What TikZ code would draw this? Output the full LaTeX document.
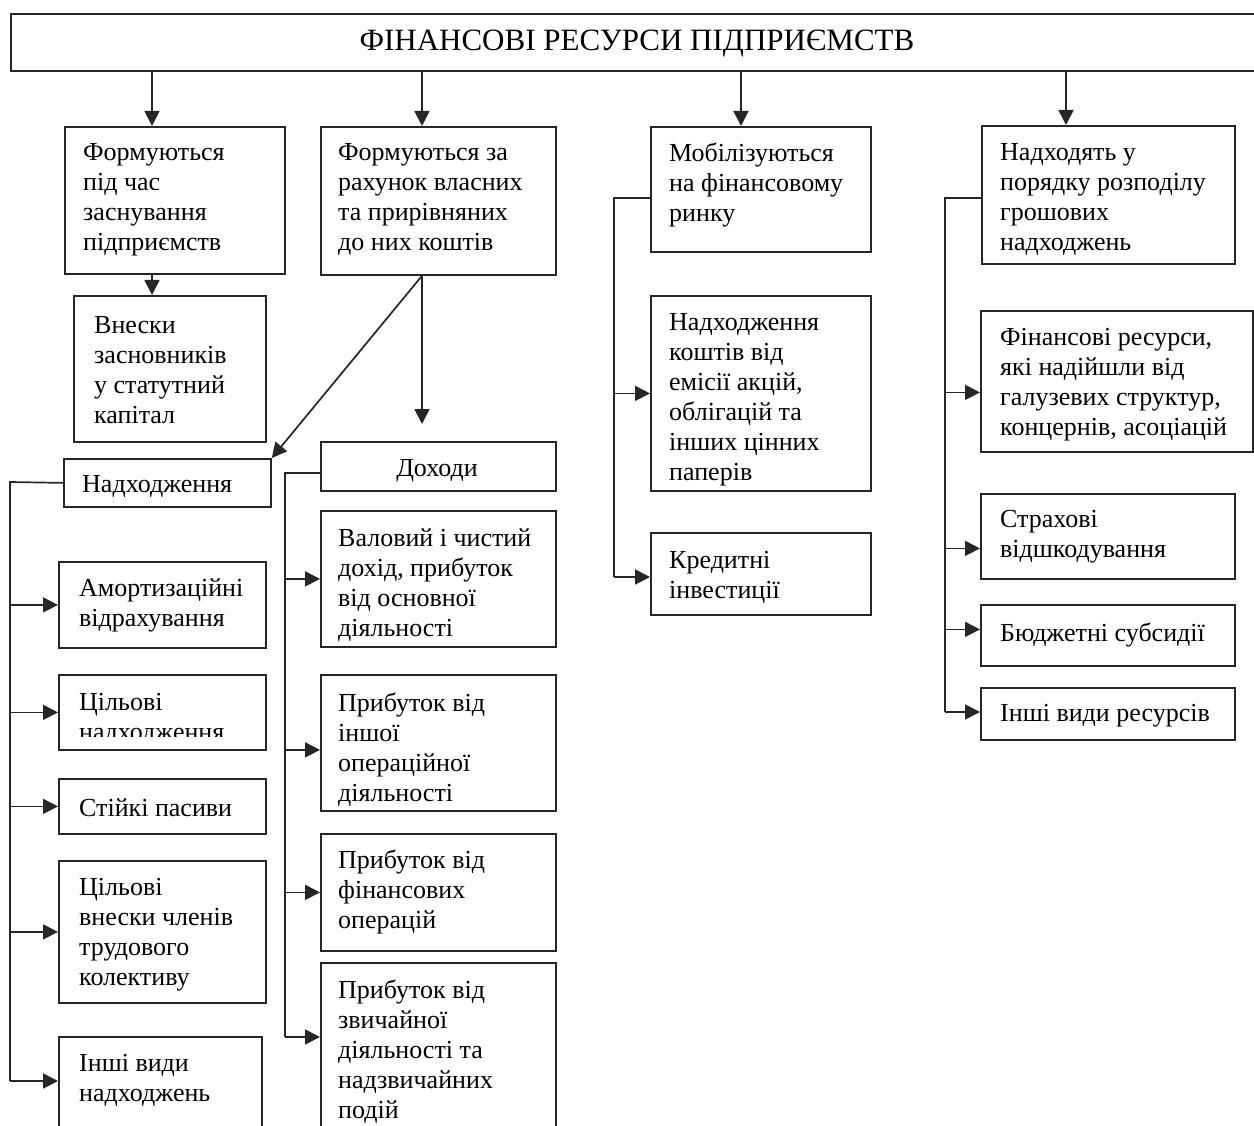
\documentclass[tikz,border=0pt]{standalone}
\usepackage{fontspec}
\setmainfont{Liberation Serif}
\usetikzlibrary{arrows.meta}
\begin{document}
\begin{tikzpicture}[x=1pt,y=-1pt,
  bx/.style={draw=black!85, line width=1.8pt, inner sep=0pt, anchor=north west},
  tx/.style={anchor=west, align=left, inner sep=0pt, yshift=-3pt, font=\fontsize{26}{30}\selectfont},
  ln/.style={draw=black!85, line width=1.7pt},
  arr/.style={ln, -{Triangle[length=15pt,width=15pt]}}]
\useasboundingbox (0,0) rectangle (1254,1126);
\clip (0,0) rectangle (1254,1126);
\fill[white] (0,0) rectangle (1254,1126);
% title
\node[bx, minimum width=1252pt, minimum height=57pt] (title) at (10,13) {};
\node[font=\fontsize{31}{34}\selectfont, inner sep=0pt] (titlet) at (637,44) {ФІНАНСОВІ РЕСУРСИ ПІДПРИЄМСТВ};
% column A
\node[bx, minimum width=220pt, minimum height=147pt] (A1) at (64,126) {};
\node[tx] (A1t) at (83,197) {Формуються\\під час\\заснування\\підприємств};
\node[bx, minimum width=192pt, minimum height=146pt] (A2) at (73,295) {};
\node[tx] (A2t) at (94,367) {Внески\\засновників\\у статутний\\капітал};
% column B
\node[bx, minimum width=235pt, minimum height=148pt] (B1) at (320,126) {};
\node[tx] (B1t) at (338,197) {Формуються за\\рахунок власних\\та прирівняних\\до них коштів};
% column C
\node[bx, minimum width=220pt, minimum height=125pt] (C1) at (650,126) {};
\node[tx] (C1t) at (669,182) {Мобілізуються\\на фінансовому\\ринку};
\node[bx, minimum width=220pt, minimum height=195pt] (C2) at (650,295) {};
\node[tx] (C2t) at (669,397) {Надходження\\коштів від\\емісії акцій,\\облігацій та\\інших цінних\\паперів};
\node[bx, minimum width=220pt, minimum height=82pt] (C3) at (650,532) {};
\node[tx] (C3t) at (669,574) {Кредитні\\інвестиції};
% column D
\node[bx, minimum width=253pt, minimum height=138pt] (D1) at (981,125) {};
\node[tx] (D1t) at (1000,197) {Надходять у\\порядку розподілу\\грошових\\надходжень};
\node[bx, minimum width=272pt, minimum height=141pt] (D2) at (980,310) {};
\node[tx] (D2t) at (1000,382) {Фінансові ресурси,\\які надійшли від\\галузевих структур,\\концернів, асоціацій};
\node[bx, minimum width=254pt, minimum height=85pt] (D3) at (980,493) {};
\node[tx] (D3t) at (1000,534) {Страхові\\відшкодування};
\node[bx, minimum width=254pt, minimum height=61pt] (D4) at (980,604) {};
\node[tx] (D4t) at (1000,632) {Бюджетні субсидії};
\node[bx, minimum width=254pt, minimum height=52pt] (D5) at (980,687) {};
\node[tx] (D5t) at (1000,713) {Інші види ресурсів};
% Надходження / Доходи
\node[bx, minimum width=207pt, minimum height=48pt] (N0) at (63,458) {};
\node[tx] (N0t) at (82,484) {Надходження};
\node[bx, minimum width=235pt, minimum height=49pt] (K0) at (320,441) {};
\node[tx, anchor=center] (K0t) at (437,468) {Доходи};
% left column
\node[bx, minimum width=207pt, minimum height=86pt] (L1) at (58,561) {};
\node[tx] (L1t) at (79,602) {Амортизаційні\\відрахування};
\node[bx, minimum width=207pt, minimum height=75pt] (L2) at (58,674) {};
\begin{scope}
\clip (58,674) rectangle (265,736);
\node[tx] (L2t) at (79,716) {Цільові\\надходження};
\end{scope}
\node[bx, minimum width=207pt, minimum height=55pt] (L3) at (58,778) {};
\node[tx] (L3t) at (79,805) {Стійкі пасиви};
\node[bx, minimum width=207pt, minimum height=142pt] (L4) at (58,860) {};
\node[tx] (L4t) at (79,932) {Цільові\\внески членів\\трудового\\колективу};
\node[bx, minimum width=203pt, minimum height=110pt] (L5) at (58,1036) {};
\node[tx] (L5t) at (79,1077) {Інші види\\надходжень};
% middle column
\node[bx, minimum width=235pt, minimum height=136pt] (M1) at (320,510) {};
\node[tx] (M1t) at (338,582) {Валовий і чистий\\дохід, прибуток\\від основної\\діяльності};
\node[bx, minimum width=235pt, minimum height=136pt] (M2) at (320,674) {};
\node[tx] (M2t) at (338,747) {Прибуток від\\іншої\\операційної\\діяльності};
\node[bx, minimum width=235pt, minimum height=117pt] (M3) at (320,833) {};
\node[tx] (M3t) at (338,889) {Прибуток від\\фінансових\\операцій};
\node[bx, minimum width=235pt, minimum height=180pt] (M4) at (320,962) {};
\node[tx] (M4t) at (338,1049) {Прибуток від\\звичайної\\діяльності та\\надзвичайних\\подій};
% top arrows
\coordinate (xA) at (152,0);
\coordinate (xB) at (422,0);
\coordinate (xC) at (741,0);
\coordinate (xD) at (1066,0);
\draw[arr] (title.south -| xA) -- (A1.north -| xA);
\draw[arr] (title.south -| xB) -- (B1.north -| xB);
\draw[arr] (title.south -| xC) -- (C1.north -| xC);
\draw[arr] (title.south -| xD) -- (D1.north -| xD);
\draw[arr] (A1.south -| xA) -- (A2.north -| xA);
\coordinate (Bend) at (422,424);
\draw[arr] (B1.south -| xB) -- (Bend);
\draw[arr] (B1.south -| xB) -- (N0.north east);
% left bracket
\coordinate (Ltop) at (10,482);
\coordinate (Lbot) at (10,1081);
\draw[ln] (N0.west) -- (Ltop) -- (Lbot);
\draw[arr] (Ltop |- L1.west) -- (L1.west);
\draw[arr] (Ltop |- L2.west) -- (L2.west);
\draw[arr] (Ltop |- L3.west) -- (L3.west);
\draw[arr] (Ltop |- L4.west) -- (L4.west);
\draw[arr] (Lbot) -- (L5.west |- Lbot);
% middle bracket
\coordinate (Mtop) at (285,473);
\coordinate (Mbot) at (285,1037);
\draw[ln] (K0.west |- Mtop) -- (Mtop) -- (Mbot);
\draw[arr] (Mtop |- M1.west) -- (M1.west);
\draw[arr] ([xshift=-35pt,yshift=-7pt]M2.west) -- ([yshift=-7pt]M2.west);
\draw[arr] (Mtop |- M3.west) -- (M3.west);
\draw[arr] (Mbot) -- (M4.west |- Mbot);
% C bracket
\coordinate (Ctop) at (614,198);
\coordinate (Cbot) at (614,577);
\draw[ln] (C1.west |- Ctop) -- (Ctop) -- (Cbot);
\draw[arr] (Ctop |- C2.west) -- (C2.west);
\draw[arr] (Cbot) -- (C3.west |- Cbot);
% D bracket
\coordinate (Dtop) at (945,198);
\coordinate (Dbot) at (945,712);
\draw[ln] (D1.west |- Dtop) -- (Dtop) -- (Dbot);
\draw[arr] ([xshift=-35pt,yshift=-11pt]D2.west) -- ([yshift=-11pt]D2.west);
\draw[arr] ([xshift=-35pt,yshift=-12pt]D3.west) -- ([yshift=-12pt]D3.west);
\draw[arr] ([xshift=-35pt,yshift=6pt]D4.west) -- ([yshift=6pt]D4.west);
\draw[arr] (Dbot) -- (D5.west |- Dbot);
\end{tikzpicture}
\end{document}
